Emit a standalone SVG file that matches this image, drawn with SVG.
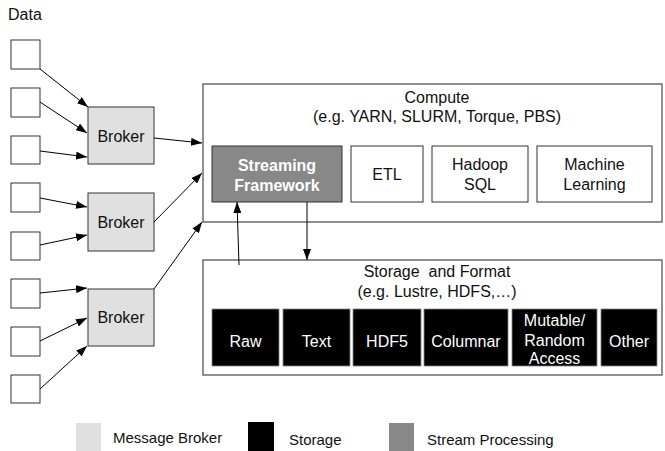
<svg xmlns="http://www.w3.org/2000/svg" width="665" height="451" viewBox="0 0 665 451">
<defs>
<marker id="ah" viewBox="0 0 11 8" refX="11" refY="4" markerWidth="11" markerHeight="8" markerUnits="userSpaceOnUse" orient="auto">
<path d="M0,0 L11,4 L0,8 z" fill="#000"/>
</marker>
<style>
text{font-family:"Liberation Sans",Arial,sans-serif;font-size:16px;fill:#111}
.c{text-anchor:middle}
.w{fill:#fff}
.b{font-weight:bold}
.pre{white-space:pre}
.data{fill:#fff;stroke:#333;stroke-width:1}
.broker{fill:#e0e0e0;stroke:#333;stroke-width:1}
.outer{fill:#fff;stroke:#555;stroke-width:1.3}
.box{fill:#fff;stroke:#333;stroke-width:1}
.stream{fill:#888;stroke:#333;stroke-width:1}
.store{fill:#000;stroke:#888;stroke-width:0.8}
.conn line{stroke:#000;stroke-width:1;marker-end:url(#ah)}
.leg{font-size:15px}
</style>
</defs>
<rect width="665" height="451" fill="#fff"/>
<text x="8" y="20">Data</text>
<g id="data1"><rect class="data" x="11" y="40" width="29" height="29"/></g>
<g id="data2"><rect class="data" x="11" y="88" width="29" height="29"/></g>
<g id="data3"><rect class="data" x="11" y="136" width="29" height="28"/></g>
<g id="data4"><rect class="data" x="11" y="183" width="29" height="29"/></g>
<g id="data5"><rect class="data" x="11" y="232" width="29" height="28"/></g>
<g id="data6"><rect class="data" x="11" y="279" width="29" height="29"/></g>
<g id="data7"><rect class="data" x="11" y="327" width="29" height="29"/></g>
<g id="data8"><rect class="data" x="11" y="375" width="29" height="28"/></g>
<g id="broker1"><rect class="broker" x="88" y="107" width="66" height="57"/><text class="c" x="121" y="142">Broker</text></g>
<g id="broker2"><rect class="broker" x="88" y="193" width="66" height="58"/><text class="c" x="121" y="228">Broker</text></g>
<g id="broker3"><rect class="broker" x="88" y="289" width="66" height="57"/><text class="c" x="121" y="323">Broker</text></g>
<g id="compute"><rect class="outer" x="203" y="84" width="459" height="138"/>
<text class="c" x="437" y="103">Compute</text>
<text class="c" x="437" y="122">(e.g. YARN, SLURM, Torque, PBS)</text></g>
<g id="streaming"><rect class="stream" x="212" y="146" width="130" height="56"/>
<text class="c w b" x="277" y="171">Streaming</text><text class="c w b" x="277" y="191">Framework</text></g>
<g id="etl"><rect class="box" x="351" y="146" width="72" height="56"/><text class="c" x="387" y="180">ETL</text></g>
<g id="hadoop"><rect class="box" x="432" y="146" width="96" height="56"/><text class="c" x="480" y="170">Hadoop</text><text class="c" x="480" y="190">SQL</text></g>
<g id="ml"><rect class="box" x="537" y="146" width="115" height="56"/><text class="c" x="594.5" y="170">Machine</text><text class="c" x="594.5" y="190">Learning</text></g>
<g id="storage"><rect class="outer" x="203" y="260" width="459" height="115"/>
<text class="c pre" x="437" y="277" xml:space="preserve">Storage  and Format</text>
<text class="c" x="437" y="297">(e.g. Lustre, HDFS,…)</text></g>
<g id="raw"><rect class="store" x="212" y="309" width="67" height="57"/><text class="c w" x="245.5" y="347">Raw</text></g>
<g id="text"><rect class="store" x="283" y="309" width="67" height="57"/><text class="c w" x="316.5" y="347">Text</text></g>
<g id="hdf5"><rect class="store" x="353" y="309" width="68" height="57"/><text class="c w" x="387" y="347">HDF5</text></g>
<g id="columnar"><rect class="store" x="424" y="309" width="84" height="57"/><text class="c w" x="466" y="347">Columnar</text></g>
<g id="mutable"><rect class="store" x="512" y="309" width="85" height="57"/><text class="c w" x="554.5" y="326">Mutable/</text><text class="c w" x="554.5" y="346">Random</text><text class="c w" x="554.5" y="364">Access</text></g>
<g id="other"><rect class="store" x="601" y="309" width="56" height="57"/><text class="c w" x="629" y="347">Other</text></g>
<g id="connectors" class="conn">
<line x1="40" y1="69" x2="88" y2="107"/>
<line x1="40" y1="102" x2="87" y2="133"/>
<line x1="40" y1="151" x2="87" y2="157"/>
<line x1="40" y1="198" x2="87" y2="207"/>
<line x1="40" y1="245" x2="87" y2="235"/>
<line x1="40" y1="293" x2="87" y2="288"/>
<line x1="40" y1="341" x2="87" y2="318"/>
<line x1="40" y1="389" x2="87" y2="346"/>
<line x1="154" y1="138" x2="202" y2="143"/>
<line x1="154" y1="222" x2="202" y2="173"/>
<line x1="154" y1="289" x2="202" y2="222"/>
<line x1="239" y1="265" x2="237" y2="202"/>
<line x1="307" y1="202" x2="307" y2="260"/>
</g>
<g id="legend">
<rect x="76" y="423" width="25" height="28" fill="#e0e0e0"/>
<text class="leg" x="113" y="443">Message Broker</text>
<rect x="248" y="422" width="26" height="29" fill="#000"/>
<text class="leg" x="289" y="445">Storage</text>
<rect x="389" y="423" width="25" height="28" fill="#888"/>
<text class="leg" x="427" y="445">Stream Processing</text>
</g>
</svg>
